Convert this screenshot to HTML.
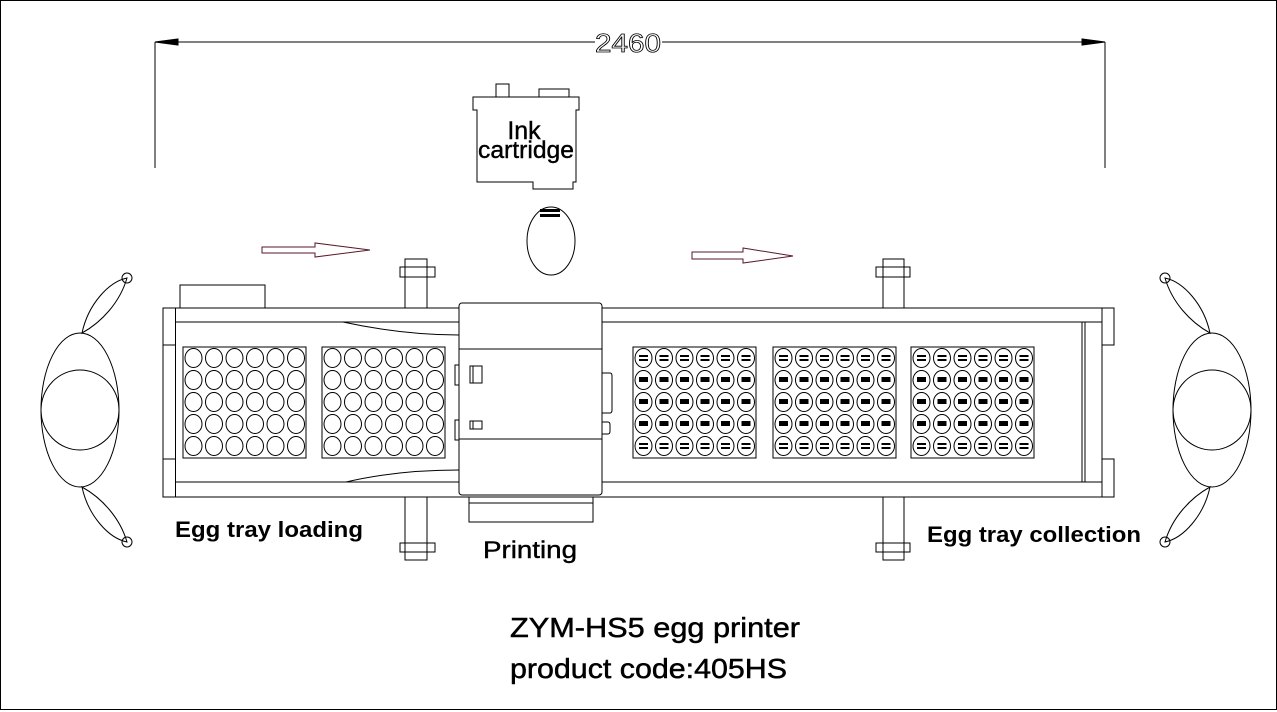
<!DOCTYPE html>
<html><head><meta charset="utf-8"><style>
html,body{margin:0;padding:0;background:#fff;}
svg{display:block;}
text{font-family:"Liberation Sans",sans-serif;}
</style></head><body>
<svg width="1277" height="712" viewBox="0 0 1277 712" xmlns="http://www.w3.org/2000/svg">
<defs>
<g id="er">
<ellipse cx="10.5" cy="0" rx="8.5" ry="9.5"/><ellipse cx="31" cy="0" rx="8.5" ry="9.5"/><ellipse cx="51.5" cy="0" rx="8.5" ry="9.5"/><ellipse cx="72" cy="0" rx="8.5" ry="9.5"/><ellipse cx="92.5" cy="0" rx="8.5" ry="9.5"/><ellipse cx="113" cy="0" rx="8.5" ry="9.5"/>
</g>
<g id="eq">
<use href="#er"/>
<g fill="#000" stroke="none">
<rect x="6" y="-3" width="9" height="2"/><rect x="6" y="1" width="9" height="2"/>
<rect x="26.5" y="-3" width="9" height="2"/><rect x="26.5" y="1" width="9" height="2"/>
<rect x="47" y="-3" width="9" height="2"/><rect x="47" y="1" width="9" height="2"/>
<rect x="67.5" y="-3" width="9" height="2"/><rect x="67.5" y="1" width="9" height="2"/>
<rect x="88" y="-3" width="9" height="2"/><rect x="88" y="1" width="9" height="2"/>
<rect x="108.5" y="-3" width="9" height="2"/><rect x="108.5" y="1" width="9" height="2"/>
</g></g>
<g id="es">
<use href="#er"/>
<g fill="#000" stroke="none">
<rect x="6" y="-3" width="9" height="5"/><rect x="26.5" y="-3" width="9" height="5"/><rect x="47" y="-3" width="9" height="5"/><rect x="67.5" y="-3" width="9" height="5"/><rect x="88" y="-3" width="9" height="5"/><rect x="108.5" y="-3" width="9" height="5"/>
</g></g>
<g id="trE">
<rect x="0" y="0" width="123" height="111"/>
<use href="#er" y="11"/><use href="#er" y="33"/><use href="#er" y="55"/><use href="#er" y="77"/><use href="#er" y="99"/>
</g>
<g id="trF">
<rect x="0" y="0" width="123" height="111"/>
<use href="#eq" y="11"/><use href="#es" y="33"/><use href="#es" y="55"/><use href="#es" y="77"/><use href="#eq" y="99"/>
</g>
<g id="roller">
<ellipse cx="0" cy="0" rx="39" ry="77"/>
<ellipse cx="0" cy="0" rx="39" ry="40"/>
<path d="M2,-77 C8,-105 28,-128 47,-132 C40,-108 22,-88 2,-77 Z"/>
<circle cx="47" cy="-132" r="5"/>
<path d="M2,77 C8,105 28,128 47,132 C40,108 22,88 2,77 Z"/>
<circle cx="47" cy="132" r="5"/>
</g>
</defs>
<rect x="0.5" y="0.5" width="1276" height="709" fill="none" stroke="#000" stroke-width="1"/>
<g fill="none" stroke="#000" stroke-width="1">
<line x1="155" y1="42" x2="595" y2="42"/><line x1="662" y1="42" x2="1105" y2="42"/>
<line x1="155" y1="42" x2="155" y2="168"/><line x1="1105" y1="42" x2="1105" y2="168"/>
<path d="M155,42 L178,39 L178,45 Z M1105,42 L1082,39 L1082,45 Z" fill="#000"/>
<rect x="496" y="84" width="13" height="13"/><rect x="539" y="89" width="30" height="8"/>
<path d="M473,97 H579 V110 H576 V182 H573 V189 H533 V182 H477 V110 H473 Z"/>
<ellipse cx="551" cy="241" rx="24" ry="34"/>
<path d="M262,247 H315 V243 L370,250 L315,257 V253 H262 Z" stroke="#5a1a2a"/>
<path d="M692,252 H743 V248 L793,256 L743,263 V259 H692 Z" stroke="#5a1a2a"/>
<rect x="180" y="285" width="85" height="23"/>
<rect x="405" y="259" width="22" height="49"/><rect x="400" y="267" width="35" height="10"/>
<rect x="405" y="497" width="22" height="63"/><rect x="400" y="543" width="35" height="9"/>
<rect x="883" y="259" width="21" height="49"/><rect x="876" y="267" width="34" height="10"/>
<rect x="883" y="497" width="21" height="63"/><rect x="876" y="543" width="34" height="9"/>
<rect x="163" y="308" width="939" height="189"/>
<line x1="175.5" y1="322" x2="1102" y2="322"/><line x1="175.5" y1="482" x2="1102" y2="482"/>
<line x1="175.5" y1="308" x2="175.5" y2="497"/>
<line x1="163" y1="345" x2="175.5" y2="345"/><line x1="163" y1="459" x2="175.5" y2="459"/>
<line x1="1082" y1="322" x2="1082" y2="482"/><line x1="1085" y1="322" x2="1085" y2="482"/>
<rect x="1102" y="308" width="12" height="37"/><rect x="1102" y="459" width="12" height="38"/>
<path d="M343,322 C380,330 420,335 459,335"/>
<path d="M346,482 C380,474 420,470 459,470"/>
<use href="#trE" x="183" y="347"/><use href="#trE" x="322" y="347"/>
<use href="#trF" x="633" y="347"/><use href="#trF" x="773" y="347"/><use href="#trF" x="911" y="347"/>
<rect x="469" y="497" width="124" height="25" fill="#fff"/><line x1="469" y1="503" x2="593" y2="503"/>
<rect x="455" y="365" width="4" height="20"/><rect x="455" y="420" width="4" height="20"/>
<rect x="459" y="303" width="143" height="192" rx="3" fill="#fff"/>
<line x1="459" y1="349" x2="602" y2="349"/><line x1="459" y1="439" x2="602" y2="439"/>
<rect x="470" y="366" width="12" height="17"/><rect x="470" y="421" width="12" height="8"/>
<path d="M470,366 h3 v17 M470,421 h3 v8"/>
<path d="M602,373 H610 Q612,373 612,376 V410 Q612,413 610,413 H602"/>
<path d="M602,422 H608 Q610,422 610,425 V431 Q610,434 608,434 H602"/>
<use href="#roller" x="80" y="410"/>
<use href="#roller" x="1212" y="410" transform="translate(2424,0) scale(-1,1)"/>
</g>
<rect x="540" y="209" width="20" height="3" fill="#000"/><rect x="540" y="214" width="20" height="3" fill="#000"/>
<text x="628" y="52" font-size="26" font-weight="100" text-anchor="middle" fill="none" stroke="#000" stroke-width="0.8" textLength="66" lengthAdjust="spacingAndGlyphs">2460</text>
<text x="524" y="139" font-size="25" text-anchor="middle" stroke="#000" stroke-width="0.4">Ink</text>
<text x="526" y="158" font-size="24" text-anchor="middle" stroke="#000" stroke-width="0.4" textLength="96" lengthAdjust="spacingAndGlyphs">cartridge</text>
<text x="175" y="537" font-size="22" font-weight="bold" textLength="188" lengthAdjust="spacingAndGlyphs">Egg tray loading</text>
<text x="483" y="558" font-size="24" stroke="#000" stroke-width="0.4" textLength="94" lengthAdjust="spacingAndGlyphs">Printing</text>
<text x="927" y="542" font-size="22" font-weight="bold" textLength="214" lengthAdjust="spacingAndGlyphs">Egg tray collection</text>
<text x="510" y="637" font-size="28" stroke="#000" stroke-width="0.5" textLength="290" lengthAdjust="spacingAndGlyphs">ZYM-HS5 egg printer</text>
<text x="510" y="678" font-size="28" stroke="#000" stroke-width="0.5" textLength="277" lengthAdjust="spacingAndGlyphs">product code:405HS</text>
</svg>
</body></html>
